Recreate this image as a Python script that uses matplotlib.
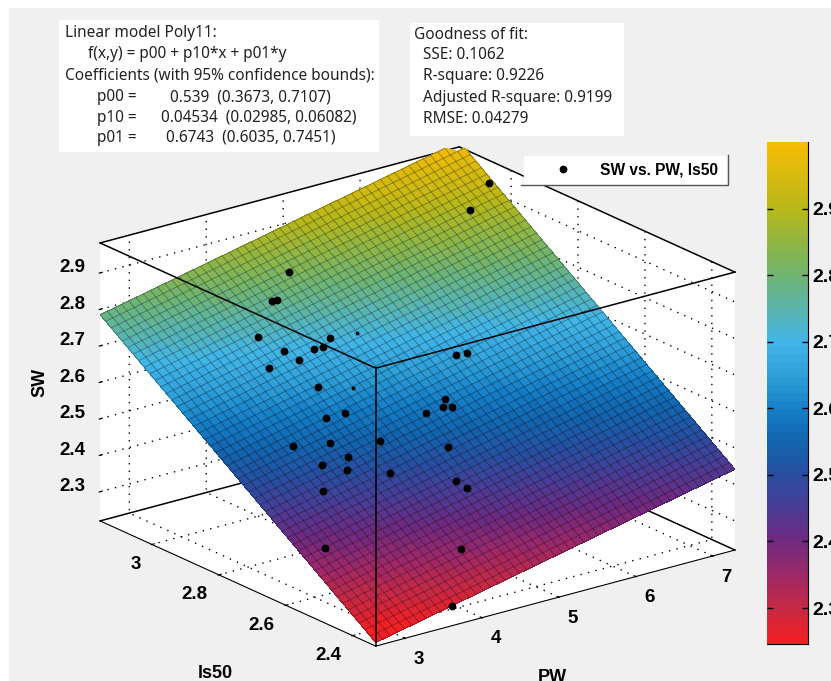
import numpy as np
import matplotlib
matplotlib.use('Agg')
import matplotlib.pyplot as plt
from matplotlib.colors import LinearSegmentedColormap, Normalize
from matplotlib.cm import ScalarMappable
from matplotlib.lines import Line2D
from matplotlib.patches import Rectangle

W, H = 831, 681

# fit printed in the chart
p00, p10, p01 = 0.539, 0.04534, 0.6743

pw_lim = (2.62, 7.29)
ls50_lim = (2.331, 3.155)
sw_lim = (2.22, 2.982)
color_lim = (2.246, 3.0)

pw_ticks = [3, 4, 5, 6, 7]
ls50_ticks = [2.4, 2.6, 2.8, 3]
ls50_labels = ['2.4', '2.6', '2.8', '3']
sw_ticks = [2.3, 2.4, 2.5, 2.6, 2.7, 2.8, 2.9]
cbar_ticks = [2.3, 2.4, 2.5, 2.6, 2.7, 2.8, 2.9]

# samples
pw_pts = [4.70, 4.318, 4.372, 3.908, 4.566, 4.431, 4.333, 4.039, 4.108, 3.768,
          4.074, 4.121, 3.906, 4.226, 3.749, 3.383, 3.806, 3.503, 3.696, 4.07,
          3.31, 2.884, 5.60, 5.717, 5.155, 5.074, 5.158, 4.87, 4.809, 4.618,
          4.665, 4.135, 3.608, 7.245, 6.858]
ls50_pts = [3.069, 3.031, 3.029, 2.979, 2.915, 2.905, 2.909, 2.932, 2.903, 2.914,
            2.838, 2.768, 2.776, 2.688, 2.727, 2.754, 2.687, 2.695, 2.664, 2.622,
            2.648, 2.544, 2.776, 2.77, 2.707, 2.694, 2.686, 2.698, 2.618, 2.551,
            2.529, 2.425, 2.331, 3.055, 3.023]
sw_pts = [2.821, 2.779, 2.78, 2.725, 2.712, 2.699, 2.697, 2.699, 2.683, 2.675,
          2.637, 2.592, 2.588, 2.543, 2.548, 2.549, 2.523, 2.515, 2.503, 2.492,
          2.474, 2.385, 2.665, 2.666, 2.598, 2.586, 2.584, 2.579, 2.523, 2.468,
          2.456, 2.362, 2.274, 2.928, 2.889]
# nearly hidden by the surface
pw_hid = [4.855, 4.389]
ls50_hid = [2.901, 2.806]
sw_hid = [2.715, 2.63]

# colorbar colours by SW value
cmap_values = [2.246, 2.3, 2.35, 2.4, 2.45, 2.5, 2.55, 2.6, 2.65, 2.7, 2.75, 2.8, 2.85, 2.9, 3.0]
cmap_colors = ['#f02024', '#c22a48', '#99286a', '#6d2a80', '#4a3d96', '#2650a0', '#1265ae',
               '#1680c8', '#2fa0d8', '#42b5e8', '#5ab5b0', '#6eb474', '#8fb646', '#b5b71c',
               '#f5bc05']

fit_lines = [(65, 32, 'Linear model Poly11:'),
             (88, 53, 'f(x,y) = p00 + p10*x + p01*y'),
             (65, 75, 'Coefficients (with 95% confidence bounds):'),
             (97, 96, 'p00 ='), (170, 96, '0.539  (0.3673, 0.7107)'),
             (97, 117, 'p10 ='), (161, 117, '0.04534  (0.02985, 0.06082)'),
             (97, 137, 'p01 ='), (166, 137, '0.6743  (0.6035, 0.7451)')]
gof_lines = [(414, 34, 'Goodness of fit:'),
             (423, 54, 'SSE: 0.1062'),
             (423, 75, 'R-square: 0.9226'),
             (423, 97, 'Adjusted R-square: 0.9199'),
             (423, 118, 'RMSE: 0.04279')]

plt.rcParams['font.family'] = ['Liberation Sans', 'DejaVu Sans']
plt.rcParams['grid.color'] = 'black'
plt.rcParams['grid.linewidth'] = 1.0
plt.rcParams['grid.linestyle'] = (0, (1, 4.5))


def px_rect(x0, y0, x1, y1):
    return [x0 / W, 1 - y1 / H, (x1 - x0) / W, (y1 - y0) / H]


fig = plt.figure(figsize=(W / 100, H / 100), dpi=100, facecolor='white')
fig.add_artist(Rectangle((9 / W, 0), 1, 1 - 8 / H, transform=fig.transFigure,
                         facecolor='#f0f0f0', edgecolor='none', zorder=-5))

size = 685
ax = fig.add_axes(px_rect(417.5 - 0.5135 * size, 396.5 - 0.4865 * size,
                          417.5 + 0.4865 * size, 396.5 + 0.5135 * size),
                  projection='3d', proj_type='ortho')
ax.patch.set_visible(False)
ax.computed_zorder = False
ax.view_init(elev=20.4, azim=-127.5)
ax.set_box_aspect((1, 1, 0.655))
ax.set_xlim(*pw_lim, view_margin=0)
ax.set_ylim(*ls50_lim, view_margin=0)
ax.set_zlim(*sw_lim, view_margin=0)

for axis in (ax.xaxis, ax.yaxis, ax.zaxis):
    axis.set_pane_color('white')
    axis.pane.set_edgecolor('white')
    axis._axinfo['tick']['inward_factor'] = 0.03
    axis._axinfo['tick']['outward_factor'] = 0.08
ax.zaxis.line.set_color((0, 0, 0, 0))

ax.set_xticks(pw_ticks)
ax.set_yticks(ls50_ticks, ls50_labels)
ax.set_zticks(sw_ticks)
ax.tick_params(axis='x', labelsize=13.5, pad=0)
ax.tick_params(axis='y', labelsize=13.5, pad=0)
ax.tick_params(axis='z', labelsize=13.5, pad=-2)
for lab in ax.get_xticklabels() + ax.get_yticklabels() + ax.get_zticklabels():
    lab.set_fontweight('bold')
for lab in ax.get_xticklabels():
    lab.set_ha('left')
for lab in ax.get_yticklabels():
    lab.set_ha('right')
for lab in ax.get_zticklabels():
    lab.set_ha('right')
    lab.set_va('baseline')

x0, x1 = pw_lim
y0, y1 = ls50_lim
z0, z1 = sw_lim

# box edges behind the surface
for xs, ys, zs in [((x0, x1), (y1, y1), (z1, z1)), ((x1, x1), (y0, y1), (z1, z1)),
                   ((x0, x1), (y1, y1), (z0, z0)), ((x1, x1), (y0, y1), (z0, z0))]:
    ax.plot(xs, ys, zs, color='black', lw=1.1, zorder=1)

vmin, vmax = color_lim
cmap_nodes = [(v - vmin) / (vmax - vmin) for v in cmap_values]
cmap_nodes[0], cmap_nodes[-1] = 0.0, 1.0
cmap = LinearSegmentedColormap.from_list('fit', list(zip(cmap_nodes, cmap_colors)), N=64)
norm = Normalize(vmin, vmax)

gx, gy = np.meshgrid(np.linspace(x0, x1, 51), np.linspace(y0, y1, 51))
gz = p00 + p10 * gx + p01 * gy
gz[gz > z1 + 0.01] = np.nan
ax.plot_surface(gx, gy, gz, rstride=1, cstride=1, cmap=cmap, norm=norm, shade=False,
                linewidth=0, antialiased=False, zorder=2)
ax.plot_wireframe(gx, gy, gz, rstride=1, cstride=1, color='black', alpha=0.3, linewidth=0.7,
                  zorder=2.5)

h, = ax.plot(pw_pts, ls50_pts, sw_pts, ls='none', marker='o', ms=4.6, color='black', zorder=3)
ax.plot(pw_hid, ls50_hid, sw_hid, ls='none', marker='o', ms=1.8, color='black', zorder=3)

# box edges in front
for xs, ys, zs in [((x0, x0), (y0, y1), (z1, z1)), ((x0, x1), (y0, y0), (z1, z1)),
                   ((x0, x0), (y0, y0), (z0, z1))]:
    ax.plot(xs, ys, zs, color='black', lw=1.1, zorder=4)

leg = ax.legend([h], ['SW vs. PW, ls50'], loc='center',
                bbox_to_anchor=(624.5 / W, 1 - 170 / H), bbox_transform=fig.transFigure,
                fancybox=False, framealpha=1, facecolor='white', edgecolor='white',
                prop={'size': 11.2, 'weight': 'bold'}, handlelength=4.2, handletextpad=0.3,
                borderpad=0.45)
fig.add_artist(Line2D([521 / W, 728 / W, 728 / W], [1 - 185 / H, 1 - 185 / H, 1 - 155 / H],
                      color='#555555', lw=1, zorder=6))

# fit and goodness boxes
fig.add_artist(Rectangle((59 / W, 1 - 152 / H), 320 / W, 132 / H, facecolor='white',
                         edgecolor='none', transform=fig.transFigure, zorder=5))
fig.add_artist(Rectangle((410 / W, 1 - 136 / H), 214 / W, 113 / H, facecolor='white',
                         edgecolor='none', transform=fig.transFigure, zorder=5))
for px, py, s in fit_lines + gof_lines:
    fig.text(px / W, 1 - (py + 5) / H, s, fontsize=11.1, va='baseline', color='#222222',
             family=['Noto Sans', 'DejaVu Sans'], zorder=7)

# axis titles
fig.text(40 / W, 1 - 382 / H, 'SW', rotation=90, fontsize=13, fontweight='bold',
         ha='center', va='center')
fig.text(215 / W, 1 - 673 / H, 'ls50', fontsize=13, fontweight='bold', ha='center', va='center')
fig.text(552 / W, 1 - 678 / H, 'PW', fontsize=13, fontweight='bold', ha='center', va='center')

# colorbar
cax = fig.add_axes(px_rect(767, 142, 808, 644))
cb = fig.colorbar(ScalarMappable(norm=norm, cmap=cmap), cax=cax)
cb.outline.set_visible(False)
cb.set_ticks(cbar_ticks)
cax.tick_params(axis='y', direction='in', left=True, right=True, length=4, width=1,
                labelsize=14, pad=3)
for lab in cax.get_yticklabels():
    lab.set_fontweight('bold')
cax.spines['right'].set_visible(True)
cax.spines['bottom'].set_visible(True)

fig.savefig('out.png', dpi=100, facecolor='white')
